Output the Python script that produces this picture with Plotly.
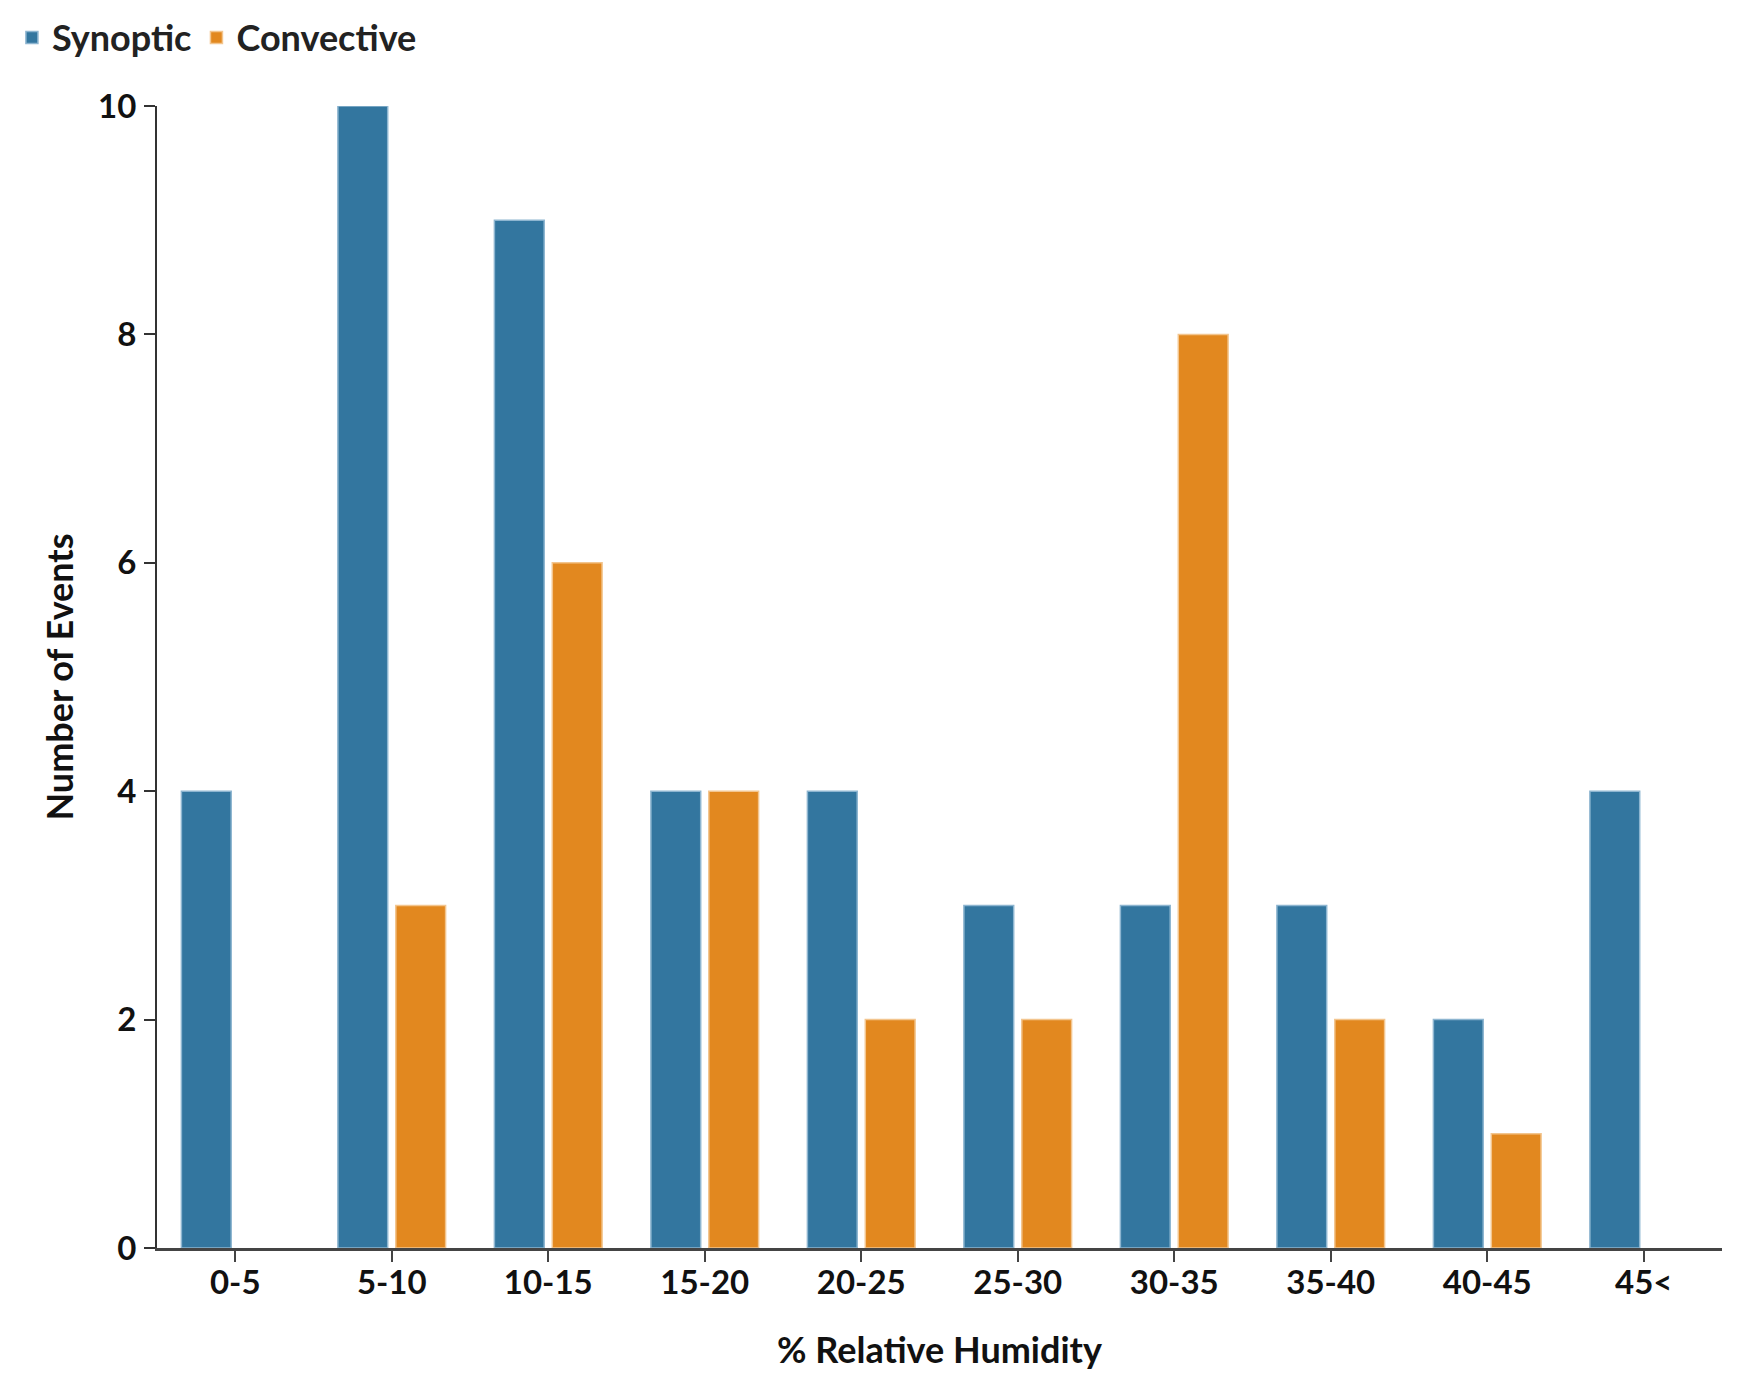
import plotly.graph_objects as go

categories = ["0-5", "5-10", "10-15", "15-20", "20-25", "25-30", "30-35", "35-40", "40-45", "45<"]
synoptic = [4, 10, 9, 4, 4, 3, 3, 3, 2, 4]
convective = [None, 3, 6, 4, 2, 2, 8, 2, 1, None]
y_ticks = [0, 2, 4, 6, 8, 10]

BLUE = "#33769F"
ORANGE = "#E2881F"
FONT = "Lato"

fig = go.Figure()
fig.add_trace(go.Bar(
    x=categories, y=synoptic, name="Synoptic",
    marker=dict(color=BLUE, line=dict(color="#8DB5D0", width=1.5)),
))
fig.add_trace(go.Bar(
    x=categories, y=convective, name="Convective",
    marker=dict(color=ORANGE, line=dict(color="#F3C58E", width=1.5)),
))

fig.update_layout(
    width=1738, height=1387,
    margin=dict(l=149, r=24, t=98, b=147, autoexpand=False),
    paper_bgcolor="white", plot_bgcolor="white",
    barmode="group", bargap=0.26, bargroupgap=0.14,
    font=dict(family=FONT, size=33, color="#111111", weight="bold"),
    legend=dict(
        orientation="h", x=-0.0927, y=1.060, xanchor="left", yanchor="middle",
        font=dict(family=FONT, size=36, color="#222222", weight="bold"),
        itemwidth=30, tracegroupgap=0, bgcolor="rgba(0,0,0,0)",
    ),
    showlegend=True,
)

fig.update_xaxes(
    type="category", range=[-0.5, 9.5],
    showline=True, linecolor="#444444", linewidth=2.5,
    ticks="outside", ticklen=11, tickwidth=2, tickcolor="#444444",
    showgrid=False, zeroline=False, ticklabelstandoff=-7,
    tickfont=dict(family=FONT, size=33, color="#111111", weight="bold"),
    title=dict(text="% Relative Humidity", standoff=38,
               font=dict(family=FONT, size=36, color="#111111", weight="bold")),
)
fig.update_yaxes(
    range=[0, 10], tickvals=y_ticks,
    showline=True, linecolor="#333333", linewidth=2,
    ticks="outside", ticklen=11, tickwidth=2, tickcolor="#333333",
    showgrid=False, zeroline=False, ticklabelstandoff=1,
    tickfont=dict(family=FONT, size=33, color="#111111", weight="bold"),
    title=dict(text="Number of Events", standoff=14,
               font=dict(family=FONT, size=36, color="#111111", weight="bold")),
)

fig.write_html("out.html")
